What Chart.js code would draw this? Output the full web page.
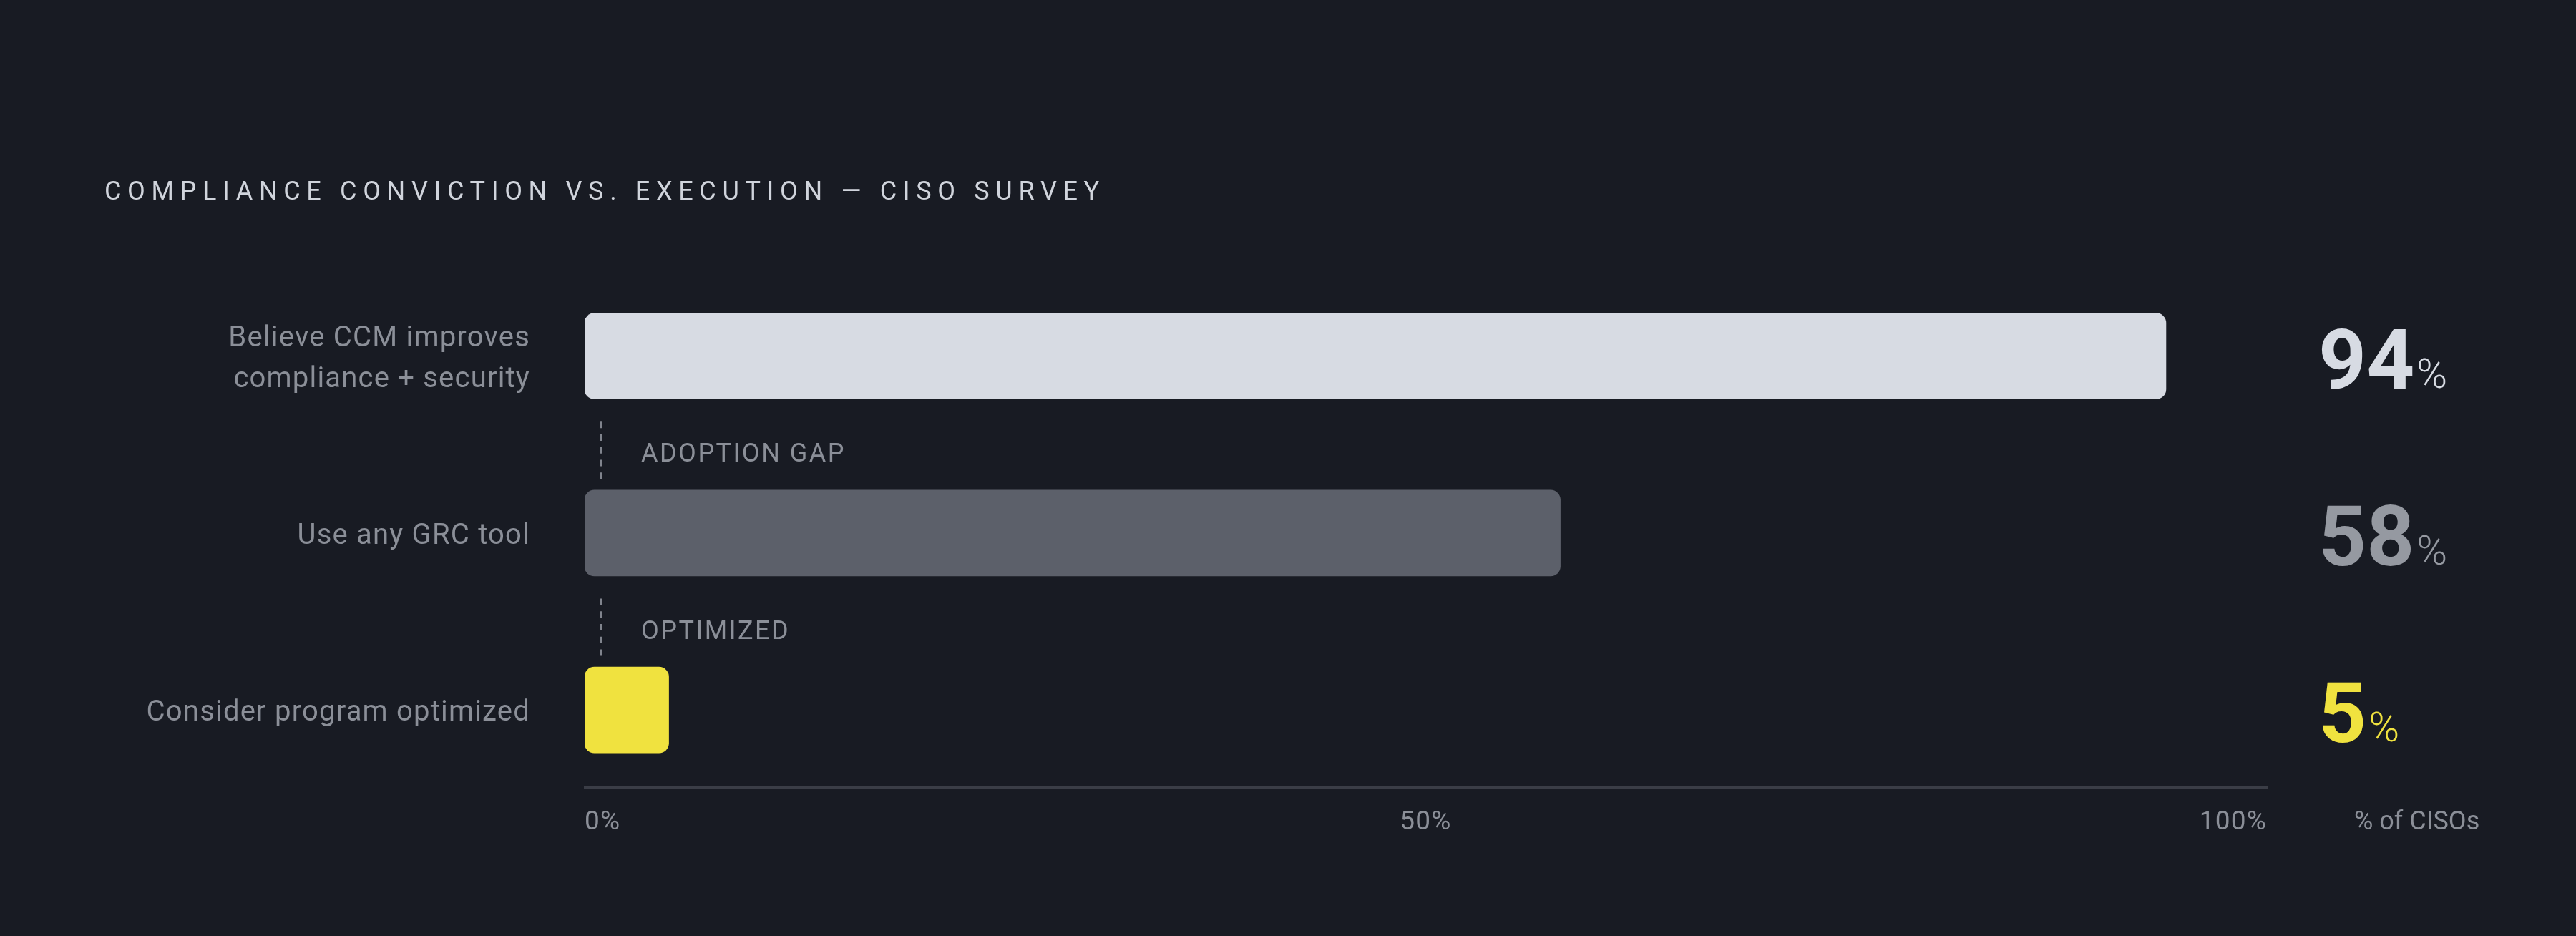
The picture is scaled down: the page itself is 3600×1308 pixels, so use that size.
<!DOCTYPE html>
<html>
<head>
<meta charset="utf-8">
<title>Compliance conviction vs. execution</title>
<script src="https://cdn.jsdelivr.net/npm/chart.js@4.4.1/dist/chart.umd.min.js"></script>
<style>
  html, body { margin: 0; padding: 0; background: #181b23; overflow: hidden; }
  #wrap { width: 3600px; height: 1308px; }
</style>
</head>
<body>
<div id="wrap"><canvas id="myChart" width="3600" height="1308"></canvas></div>
<script>
// chart data
const chartTitle = 'COMPLIANCE CONVICTION VS. EXECUTION — CISO SURVEY';
const categories = [['Believe CCM improves', 'compliance + security'], 'Use any GRC tool', 'Consider program optimized'];
const values = [94, 58, 5];
const barColors = ['#d7dbe3', '#5c606a', '#f0e23f'];
const valueColors = ['#d7dbe3', '#9599a1', '#f0e23f'];
const gapLabels = ['ADOPTION GAP', 'OPTIMIZED'];
const xTicks = [0, 50, 100];
const unitLabel = '% of CISOs';

const FONT = 'Roboto, "Noto Sans", sans-serif';
const MUTED = '#8b8f98';

// titulo, anotacoes e valores desenhados a mao
const overlay = {
    id: 'overlay',
    beforeDraw(chart) {
        const ctx = chart.ctx;
        ctx.fillStyle = '#181b23';
        ctx.fillRect(0, 0, chart.width, chart.height);
        // a bit of tracking for the axis labels too
        ctx.letterSpacing = '1.2px';
    },
    afterDraw(chart) {
        const ctx = chart.ctx;
        const area = chart.chartArea;
        const ys = chart.scales.y;
        const xs = chart.scales.x;
        ctx.save();

        // title, spaced out to fill its width
        ctx.font = '400 36px ' + FONT;
        ctx.fillStyle = '#d0d4dc';
        ctx.textAlign = 'left';
        ctx.textBaseline = 'alphabetic';
        ctx.letterSpacing = '0px';
        const w0 = ctx.measureText(chartTitle).width;
        const sp = (1390 - w0) / (chartTitle.length - 1);
        ctx.letterSpacing = sp.toFixed(2) + 'px';
        ctx.fillText(chartTitle, 146, 279);

        // gap markers between bars
        gapLabels.forEach((txt, i) => {
            const mid = (ys.getPixelForValue(i) + ys.getPixelForValue(i + 1)) / 2 + 8;
            const dx = area.left + 23;
            ctx.strokeStyle = '#80848d';
            ctx.lineWidth = 3;
            ctx.setLineDash([9, 8.75]);
            ctx.beginPath();
            ctx.moveTo(dx, mid - 40);
            ctx.lineTo(dx, mid + 40);
            ctx.stroke();
            ctx.setLineDash([]);
            ctx.font = '400 36px ' + FONT;
            ctx.letterSpacing = '2.5px';
            ctx.fillStyle = MUTED;
            ctx.textBaseline = 'middle';
            ctx.fillText(txt, area.left + 79, mid + 7);
        });

        // big values on the right
        values.forEach((v, i) => {
            const y = ys.getPixelForValue(i);
            const x = area.right + 72;
            ctx.letterSpacing = '0px';
            ctx.textBaseline = 'alphabetic';
            ctx.fillStyle = valueColors[i];
            ctx.font = '700 117px ' + FONT;
            ctx.fillText(String(v), x, y + 45);
            const nw = ctx.measureText(String(v)).width;
            ctx.font = '300 58px ' + FONT;
            ctx.fillText('%', x + nw + 3, y + 44);
        });

        // unit label next to the axis
        ctx.font = '400 36px ' + FONT;
        ctx.letterSpacing = '0px';
        ctx.fillStyle = MUTED;
        ctx.textBaseline = 'middle';
        ctx.fillText(unitLabel, area.right + 122, xs.top + 50);

        ctx.restore();
    }
};

const canvas = document.getElementById('myChart');
new Chart(canvas.getContext('2d'), {
    type: 'bar',
    data: {
        datasets: [{
            data: values.map((v, i) => ({ x: v, y: i })),
            backgroundColor: barColors,
            borderRadius: 14,
            borderSkipped: false,
            barThickness: 120
        }]
    },
    options: {
        indexAxis: 'y',
        responsive: false,
        animation: false,
        devicePixelRatio: 1,
        layout: { padding: { top: 374, right: 432, bottom: 0, left: 0 } },
        plugins: {
            legend: { display: false },
            title: { display: false },
            tooltip: { enabled: false }
        },
        scales: {
            x: {
                type: 'linear',
                min: 0,
                max: 100,
                afterBuildTicks: s => { s.ticks = xTicks.map(v => ({ value: v })); },
                afterFit: s => { s.height = 208; },
                grid: { display: false, drawTicks: false },
                border: { display: true, color: '#3a3d46', width: 3 },
                ticks: {
                    align: 'inner',
                    maxRotation: 0,
                    padding: 28,
                    color: MUTED,
                    font: { family: FONT, size: 37 },
                    callback: v => v + '%'
                }
            },
            y: {
                type: 'linear',
                reverse: true,
                offset: false,
                min: -0.5,
                max: 2.436,
                afterBuildTicks: s => { s.ticks = categories.map((_, i) => ({ value: i })); },
                afterFit: s => { s.width = 817; },
                grid: { display: false, drawTicks: false, offset: false },
                border: { display: false },
                ticks: {
                    padding: 76,
                    labelOffset: 5,
                    color: MUTED,
                    font: { family: FONT, size: 40, lineHeight: 1.425 },
                    callback: v => categories[v]
                }
            }
        }
    },
    plugins: [overlay]
});
</script>
</body>
</html>
